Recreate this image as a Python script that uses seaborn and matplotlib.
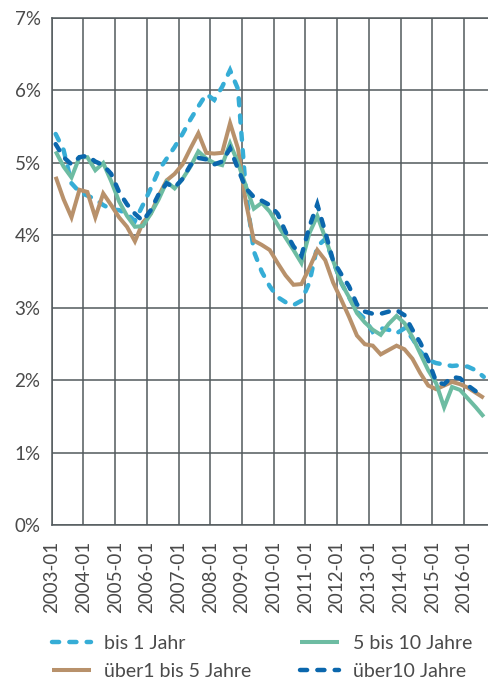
import numpy as np
import pandas as pd
import matplotlib
matplotlib.use("Agg")
import matplotlib.pyplot as plt
from matplotlib.ticker import FuncFormatter, FixedLocator
import seaborn as sns

# Quarterly observations 2003Q1 .. 2016Q3
quarters = pd.period_range("2003Q1", "2016Q3", freq="Q")

bis_1_jahr = [
    5.40, 5.18, 4.72, 4.60, 4.55, 4.50, 4.42, 4.36, 4.35, 4.30,
    4.20, 4.42, 4.65, 4.90, 5.06, 5.22, 5.40, 5.60, 5.78, 5.95,
    5.87, 6.05, 6.28, 6.02, 4.60, 3.78, 3.50, 3.30, 3.15, 3.08,
    3.04, 3.10, 3.35, 3.85, 3.95, 3.65, 3.35, 3.15, 2.95, 2.85,
    2.67, 2.72, 2.70, 2.65, 2.72, 2.58, 2.40, 2.28, 2.24, 2.22,
    2.20, 2.21, 2.19, 2.14, 2.05,
]
ueber1_bis_5 = [
    4.81, 4.50, 4.25, 4.63, 4.60, 4.25, 4.58, 4.42, 4.25, 4.12,
    3.92, 4.18, 4.30, 4.55, 4.76, 4.85, 4.98, 5.20, 5.41, 5.14,
    5.13, 5.14, 5.55, 5.20, 4.45, 3.93, 3.87, 3.80, 3.62, 3.45,
    3.32, 3.33, 3.55, 3.80, 3.66, 3.35, 3.12, 2.88, 2.62, 2.50,
    2.48, 2.36, 2.42, 2.48, 2.43, 2.30, 2.10, 1.93, 1.88, 1.93,
    1.98, 1.95, 1.90, 1.83, 1.76,
]
fuenf_bis_10 = [
    5.16, 4.95, 4.80, 5.08, 5.08, 4.90, 5.00, 4.75, 4.47, 4.27,
    4.12, 4.13, 4.30, 4.50, 4.74, 4.65, 4.78, 4.95, 5.16, 5.06,
    5.00, 4.97, 5.27, 5.00, 4.68, 4.37, 4.45, 4.33, 4.15, 3.97,
    3.80, 3.62, 4.03, 4.27, 3.97, 3.65, 3.35, 3.15, 2.93, 2.80,
    2.70, 2.63, 2.78, 2.89, 2.79, 2.60, 2.37, 2.14, 1.96, 1.63,
    1.91, 1.87, 1.75, 1.63, 1.50,
]
ueber10 = [
    5.26, 5.08, 4.98, 5.08, 5.10, 5.02, 4.97, 4.85, 4.60, 4.43,
    4.30, 4.20, 4.35, 4.57, 4.72, 4.66, 4.78, 4.97, 5.07, 5.05,
    4.98, 5.02, 5.20, 4.92, 4.65, 4.53, 4.48, 4.42, 4.30, 4.05,
    3.85, 3.72, 4.12, 4.43, 4.05, 3.65, 3.47, 3.30, 3.05, 2.95,
    2.92, 2.92, 2.95, 2.97, 2.90, 2.70, 2.52, 2.28, 1.98, 1.95,
    2.05, 2.03, 1.93, 1.85, 1.78,
]

series_names = ["bis 1 Jahr", "über1 bis 5 Jahre", "5 bis 10 Jahre", "über10 Jahre"]
series_values = [bis_1_jahr, ueber1_bis_5, fuenf_bis_10, ueber10]
colors = ["#36add6", "#b8916b", "#6dbca2", "#0b67ad"]
dash_styles = [(1.6, 2.3), "", "", (1.6, 2.3)]
widths = [3.2, 2.9, 2.9, 3.2]

year_ticks = list(range(2003, 2017))
tick_labels = [f"{y}-01" for y in year_ticks]
y_ticks = list(range(0, 8))

# each quarterly value sits in the middle of its quarter
xpos = np.array([q.year + (q.quarter - 1) / 4 + 0.125 for q in quarters])

frames = []
for name, vals in zip(series_names, series_values):
    frames.append(pd.DataFrame({"Zeit": xpos, "Zins": vals, "Laufzeit": name}))
df = pd.concat(frames, ignore_index=True)

plt.rcParams["font.family"] = ["Lato", "DejaVu Sans"]
plt.rcParams["lines.dash_capstyle"] = "round"
plt.rcParams["lines.solid_capstyle"] = "butt"
plt.rcParams["lines.dash_joinstyle"] = "miter"
plt.rcParams["lines.solid_joinstyle"] = "miter"

text_col = "#4a4a4a"
grid_col = "#525a5d"

fig = plt.figure(figsize=(4.89, 6.79), dpi=100)
ax = fig.add_axes([0.1057, 0.2261, 0.8943, 0.7474])

sns.lineplot(
    data=df, x="Zeit", y="Zins", hue="Laufzeit", style="Laufzeit",
    hue_order=series_names, style_order=series_names,
    palette=dict(zip(series_names, colors)),
    dashes=dict(zip(series_names, dash_styles)),
    ax=ax, legend="auto", zorder=3,
)
for line, lw in zip(ax.lines[: len(series_names)], widths):
    line.set_linewidth(lw)

ax.set_xlim(2003.0, 2016.79)
ax.set_ylim(0, 7)
ax.xaxis.set_major_locator(FixedLocator(year_ticks))
ax.set_xticklabels(tick_labels, rotation=90, ha="center", va="top")
ax.yaxis.set_major_locator(FixedLocator(y_ticks))
ax.yaxis.set_major_formatter(FuncFormatter(lambda v, p: f"{v:.0f}%"))

ax.grid(True, color=grid_col, linewidth=1.1, zorder=0)
ax.set_axisbelow(True)
for side in ["left", "bottom", "top"]:
    ax.spines[side].set_color(grid_col)
    ax.spines[side].set_linewidth(1.1)
ax.spines["right"].set_visible(False)
ax.tick_params(axis="both", length=0, labelsize=13.5, colors=text_col)
ax.tick_params(axis="x", pad=11)
ax.tick_params(axis="y", pad=8)
ax.set_xlabel("")
ax.set_ylabel("")

handles, labels = ax.get_legend_handles_labels()
for h, lw in zip(handles, widths):
    h.set_linewidth(lw)
ax.get_legend().remove()
leg = fig.legend(
    handles, labels, loc="upper left", bbox_to_anchor=(0.106, 0.065),
    ncol=2, frameon=False, fontsize=14, labelcolor=text_col,
    handlelength=2.0, handletextpad=0.7, columnspacing=2.5,
    labelspacing=0.55, borderpad=0, borderaxespad=0,
)

fig.savefig("out.png", dpi=100)
